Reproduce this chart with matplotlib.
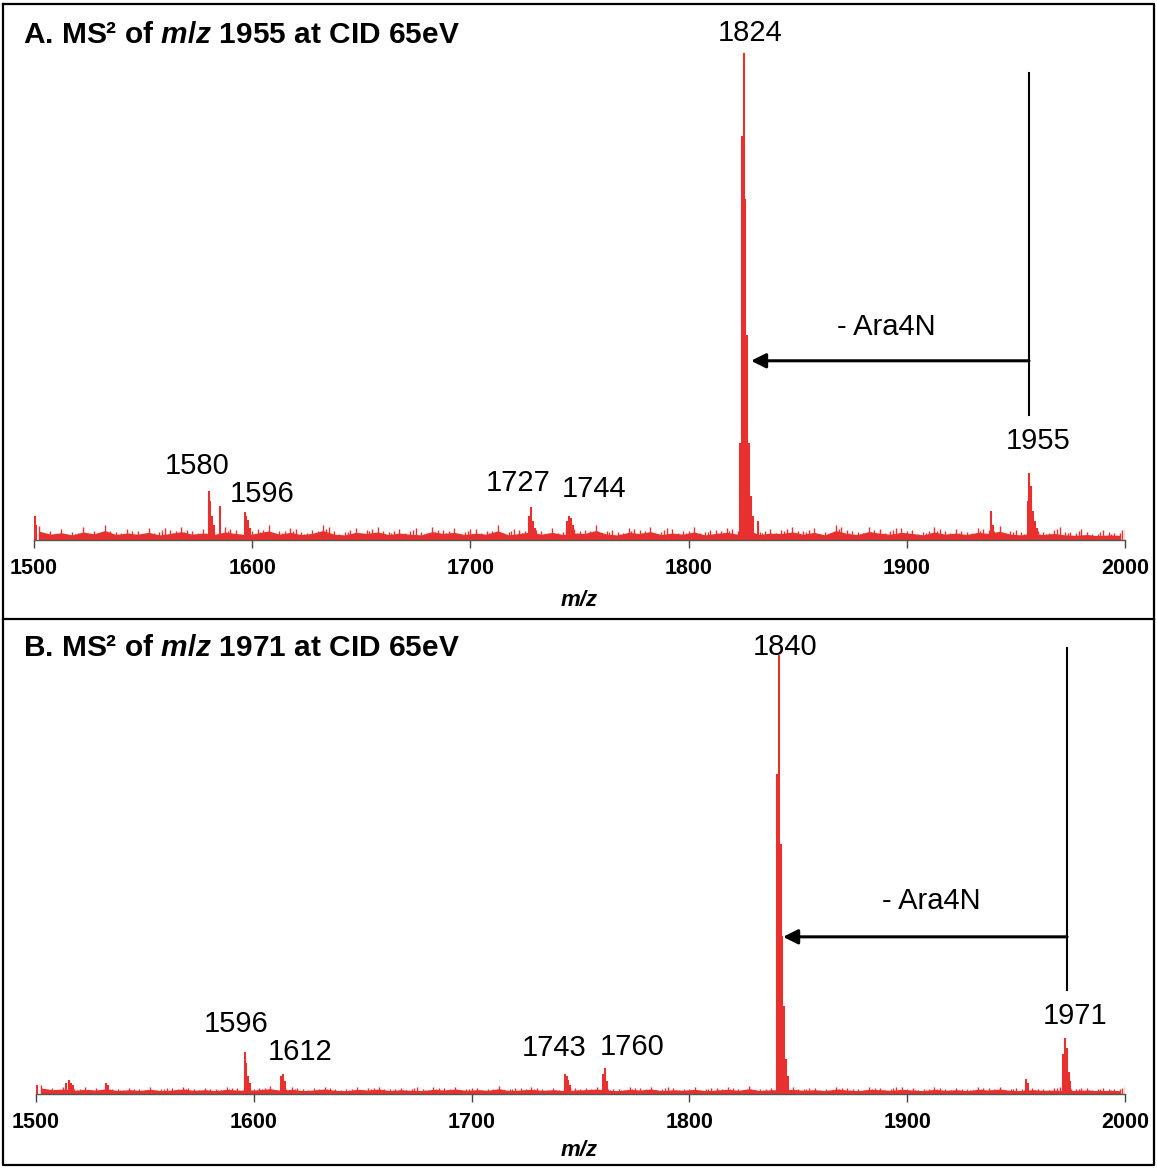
import matplotlib
matplotlib.use("Agg")
import matplotlib.pyplot as plt
import numpy as np
from matplotlib.lines import Line2D

plt.rcParams['font.family'] = ['Liberation Sans', 'DejaVu Sans']
plt.rcParams['mathtext.fontset'] = 'custom'
plt.rcParams['mathtext.rm'] = 'Liberation Sans:bold'
plt.rcParams['mathtext.it'] = 'Liberation Sans:bold:italic'
plt.rcParams['mathtext.bf'] = 'Liberation Sans:bold'

RED = '#e8302e'

# ---- panel A: MS2 of m/z 1955 ----
noise_a = [2.2, 1.4, 1.8, 1.2, 2.0, 1.5, 2.4, 1.3, 1.7, 1.4,
           1.9, 1.2, 1.6, 2.1, 1.4, 1.7, 1.3, 2.0, 1.6, 1.2,
           1.7, 2.3, 1.4, 1.9, 1.3, 1.6, 2.4, 1.4, 1.2, 1.9,
           1.6, 2.0, 1.3, 1.7, 1.4, 1.2, 2.1, 1.6, 1.9, 1.3,
           1.7, 1.4, 2.3, 1.2, 1.6, 2.0, 1.4, 1.9, 1.3, 1.7,
           1.6, 2.4, 1.4, 1.2, 1.9, 1.6, 2.1, 1.3, 1.7, 1.4,
           2.0, 1.2, 1.6, 1.9, 1.4, 2.3, 1.3, 1.7, 1.6, 2.0,
           1.4, 1.9, 1.2, 2.4, 1.6, 1.3, 2.1, 1.7, 1.4, 1.9,
           1.6, 1.2, 2.0, 1.4, 1.7, 1.3, 1.9, 1.6, 2.2, 1.4,
           1.2, 1.7, 1.3, 1.6, 1.2, 1.1, 1.3, 1.0, 1.2, 1.1]
peaks_a_mz = [1500.3, 1501.0,
              1580.0, 1580.8, 1581.6, 1582.5, 1585.2,
              1596.5, 1597.3, 1598.1, 1599.0,
              1727.0, 1727.8, 1728.6, 1729.5,
              1744.3, 1745.1, 1745.9, 1746.8,
              1823.6, 1824.4, 1825.2, 1826.0, 1826.8, 1827.6, 1828.4, 1829.3, 1832.0,
              1938.6, 1939.3,
              1955.4, 1956.2, 1957.0, 1957.8, 1958.6, 1959.5]
peaks_a_int = [5.0, 3.0,
               10.0, 8.0, 5.0, 3.0, 7.0,
               5.8, 5.0, 4.2, 2.5,
               5.0, 6.8, 4.0, 2.5,
               4.0, 5.0, 4.6, 3.0,
               20.0, 83.0, 100.0, 70.0, 42.0, 20.0, 9.0, 5.0, 4.0,
               6.0, 3.0,
               8.0, 13.8, 11.0, 6.0, 4.0, 2.5]
labels_a = ['1580', '1596', '1727', '1744', '1824', '1955']
labels_a_x = [1574.7, 1604.5, 1721.8, 1756.6, 1828.2, 1960.1]
labels_a_y = [15.2, 9.4, 11.7, 10.5, 104.1, 20.3]
precursor_a = 1956.0
product_a = 1828.6

# ---- panel B: MS2 of m/z 1971 ----
noise_b = [1.6, 1.1, 1.3, 0.9, 1.2, 1.0, 1.4, 0.8, 1.1, 0.9,
           1.2, 0.8, 1.0, 1.3, 0.9, 1.1, 0.8, 1.2, 1.0, 0.9,
           1.1, 1.4, 0.9, 1.2, 0.8, 1.0, 1.3, 0.9, 0.8, 1.2,
           1.0, 1.3, 0.8, 1.1, 0.9, 0.8, 1.2, 1.0, 1.3, 0.9,
           1.1, 0.9, 1.4, 0.8, 1.0, 1.2, 0.9, 1.1, 0.8, 1.0,
           1.1, 1.3, 0.9, 0.8, 1.2, 1.0, 1.3, 0.8, 1.1, 0.9,
           1.2, 0.8, 1.0, 1.2, 0.9, 1.4, 0.8, 1.1, 1.0, 1.2,
           0.9, 1.1, 0.8, 1.3, 1.0, 0.8, 1.2, 1.1, 0.9, 1.2,
           1.0, 0.8, 1.2, 0.9, 1.1, 0.8, 1.2, 1.0, 1.3, 0.9,
           0.8, 1.1, 0.9, 1.0, 0.8, 0.9, 1.0, 0.8, 0.9, 0.8]
peaks_b_mz = [1500.3,
              1514.0, 1515.0, 1516.0, 1517.0, 1532.0, 1533.0,
              1595.8, 1596.6, 1597.4, 1598.3,
              1612.5, 1613.3, 1614.1,
              1742.8, 1743.6, 1744.4, 1745.3,
              1760.4, 1761.2, 1762.0,
              1840.3, 1841.1, 1841.9, 1842.7, 1843.5, 1844.3, 1845.2,
              1954.5, 1955.3,
              1971.7, 1972.5, 1973.3, 1974.1, 1974.9]
peaks_b_int = [2.0,
               2.5, 3.2, 2.6, 2.0, 2.6, 2.0,
               9.6, 7.0, 4.0, 2.5,
               4.0, 4.6, 3.0,
               4.6, 4.0, 3.2, 2.0,
               4.5, 5.9, 3.0,
               73.0, 100.0, 57.0, 36.0, 20.0, 8.0, 4.0,
               3.4, 2.5,
               9.0, 12.8, 10.5, 5.0, 3.0]
labels_b = ['1596', '1612', '1743', '1760', '1840', '1971']
labels_b_x = [1591.8, 1621.2, 1737.8, 1773.6, 1843.9, 1977.0]
labels_b_y = [15.9, 9.6, 10.5, 10.7, 101.8, 17.8]
precursor_b = 1973.4
product_b = 1843.0

ticks = [1500, 1600, 1700, 1800, 1900, 2000]
noise_mz = np.arange(1500, 2000, 5) + 2.5

W, H = 1157, 1168
fig = plt.figure(figsize=(W / 100, H / 100), dpi=100)


def draw_panel(rect, noise, pk_mz, pk_int, labels, lx, ly, prec, prod,
               vline_top, vline_bot, arrow_y, loss_xy):
    ax = fig.add_axes(rect)
    noise = np.array(noise)
    # floor plus spiky tops so the baseline looks like real noise
    ax.fill_between(noise_mz, 0, noise * 0.75, color=RED, lw=1.0)
    ax.vlines(noise_mz, 0, noise * 1.3, color=RED, lw=1.0)
    ax.vlines(noise_mz + 2.5, 0, noise[::-1] * 1.1, color=RED, lw=1.0)
    ax.vlines(noise_mz + 1.2, 0, noise[::-1] * 0.9, color=RED, lw=1.0)
    ax.vlines(pk_mz, 0, pk_int, color=RED, lw=1.5)
    ax.set_xlim(1500, 2000)
    ax.set_ylim(0, 100)
    for s in ['top', 'left', 'right']:
        ax.spines[s].set_visible(False)
    ax.spines['bottom'].set_color('#555555')
    ax.spines['bottom'].set_linewidth(1.0)
    ax.set_yticks([])
    ax.set_xticks(ticks)
    ax.tick_params(axis='x', direction='out', length=6, width=1.0,
                   color='#444444', labelsize=15.5, pad=7)
    for t in ax.get_xticklabels():
        t.set_fontweight('bold')
    for txt, x, y in zip(labels, lx, ly):
        ax.text(x, y, txt, ha='center', va='center', fontsize=21, clip_on=False)
    # precursor line and neutral loss arrow
    ax.plot([prec, prec], [vline_bot, vline_top], color='black', lw=1.5,
            clip_on=False)
    ax.annotate('', xy=(prod, arrow_y), xytext=(prec, arrow_y),
                arrowprops=dict(arrowstyle='-|>', color='black', lw=2.2,
                                mutation_scale=22, shrinkA=0, shrinkB=0))
    ax.text(loss_xy[0], loss_xy[1], '- Ara4N', ha='center', va='center',
            fontsize=21)
    return ax


draw_panel([34 / W, (H - 540) / H, 1091 / W, 487 / H], noise_a, peaks_a_mz,
           peaks_a_int, labels_a, labels_a_x, labels_a_y, precursor_a,
           product_a, 95.9, 25.7, 36.8, (1890.5, 43.7))
draw_panel([36 / W, (H - 1094) / H, 1089 / W, 439 / H], noise_b, peaks_b_mz,
           peaks_b_int, labels_b, labels_b_x, labels_b_y, precursor_b,
           product_b, 101.6, 23.7, 35.8, (1911.0, 44.0))

# panel titles and x labels
fig.text(23 / W, 1 - 35 / H, r'A. MS² of $m/z$ 1955 at CID 65eV',
         fontsize=21.5, fontweight='bold', va='center', ha='left')
fig.text(23 / W, 1 - 648 / H, r'B. MS² of $m/z$ 1971 at CID 65eV',
         fontsize=21.5, fontweight='bold', va='center', ha='left')
fig.text(579 / W, 1 - 601 / H, 'm/z', fontsize=16, fontweight='bold',
         style='italic', ha='center', va='center')
fig.text(579 / W, 1 - 1150 / H, 'm/z', fontsize=16, fontweight='bold',
         style='italic', ha='center', va='center')

# frame around both panels and the divider
lw = 1.6
fig.add_artist(Line2D([3 / W, 1154 / W, 1154 / W, 3 / W, 3 / W],
                      [1 - 4 / H, 1 - 4 / H, 1 - 1165 / H, 1 - 1165 / H, 1 - 4 / H],
                      color='black', lw=lw))
fig.add_artist(Line2D([3 / W, 1154 / W], [1 - 619 / H, 1 - 619 / H],
                      color='black', lw=lw))

fig.savefig('out.png', dpi=100, facecolor='white')
